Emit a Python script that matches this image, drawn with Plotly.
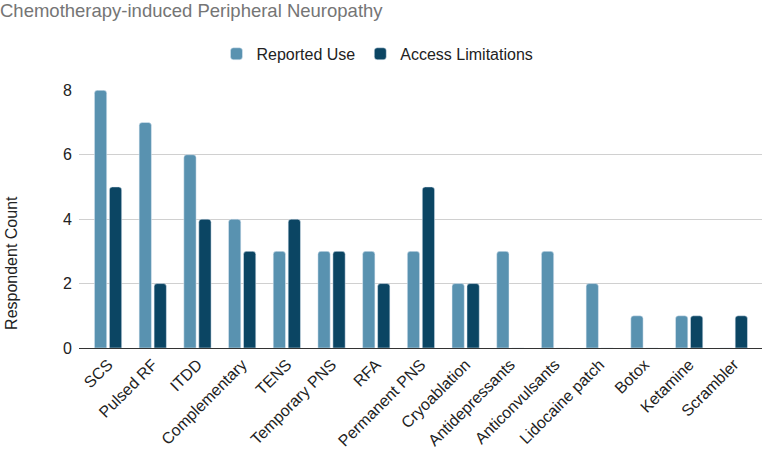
import plotly.graph_objects as go

categories = ["SCS", "Pulsed RF", "ITDD", "Complementary", "TENS", "Temporary PNS", "RFA",
              "Permanent PNS", "Cryoablation", "Antidepressants", "Anticonvulsants",
              "Lidocaine patch", "Botox", "Ketamine", "Scrambler"]
reported_use = [8, 7, 6, 4, 3, 3, 3, 3, 2, 3, 3, 2, 1, 1, 0]
access_limitations = [5, 2, 4, 3, 4, 3, 2, 5, 2, 0, 0, 0, 0, 1, 1]
y_ticks = [0, 2, 4, 6, 8]

fig = go.Figure()
fig.add_trace(go.Bar(x=categories, y=reported_use, name="Reported Use", marker_color="#5992b0"))
fig.add_trace(go.Bar(x=categories, y=access_limitations, name="Access Limitations", marker_color="#0b4563"))

fig.update_layout(
    width=764, height=452,
    margin=dict(l=79, r=2, t=90, b=104, autoexpand=False),
    paper_bgcolor="white", plot_bgcolor="white",
    font=dict(family="Liberation Sans, Arial, sans-serif", size=16, color="#222"),
    title=dict(text="Chemotherapy-induced Peripheral Neuropathy", x=0.0, xanchor="left",
               xref="container", y=0.99, yanchor="top",
               font=dict(family="Liberation Sans, Arial, sans-serif", size=18.5, color="#757575")),
    legend=dict(orientation="h", x=0.437, xanchor="center", y=1.14, yanchor="middle",
                font=dict(size=16, color="#222")),
    barmode="group", bargap=0.33, bargroupgap=0.18, barcornerradius=3,
    xaxis=dict(tickangle=-45, showline=True, linecolor="#333", linewidth=1,
               range=[-0.65, 14.63], tickfont=dict(size=16, color="#222"), ticks=""),
    yaxis=dict(range=[0, 8.01], tickvals=y_ticks, gridcolor="#d0d0d0", gridwidth=1,
               tickfont=dict(size=16, color="#222"), zeroline=False, ticks="", ticklen=0,
               ticklabelstandoff=6),
    annotations=[dict(text="Respondent Count", textangle=-90, xref="paper", yref="paper",
                      x=-0.098, y=0.33, xanchor="center", yanchor="middle", showarrow=False,
                      font=dict(size=16, color="#222"))],
)
fig.write_html("out.html")
